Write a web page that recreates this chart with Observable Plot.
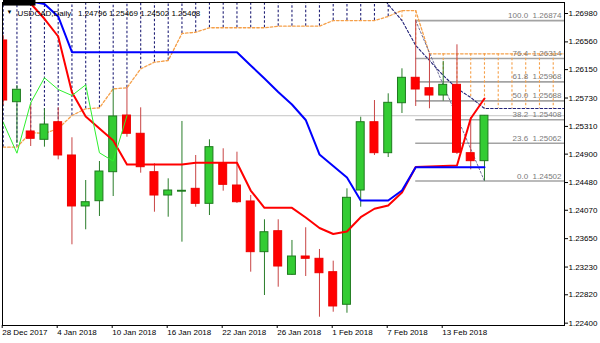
<!DOCTYPE html>
<html><head><meta charset="utf-8">
<script src="https://cdn.jsdelivr.net/npm/d3@7"></script>
<script src="https://cdn.jsdelivr.net/npm/@observablehq/plot@0.6"></script>
<style>
html,body{margin:0;padding:0;background:#fff;}
#chart svg{display:block;}
</style></head><body><div id="chart"></div>
<script>
const symbol = "USDCAD";
const timeframe = "Daily";
const dates = ["28 Dec 2017","29 Dec 2017","2 Jan 2018","3 Jan 2018","4 Jan 2018","5 Jan 2018","8 Jan 2018","9 Jan 2018","10 Jan 2018","11 Jan 2018","12 Jan 2018","15 Jan 2018","16 Jan 2018","17 Jan 2018","18 Jan 2018","19 Jan 2018","22 Jan 2018","23 Jan 2018","24 Jan 2018","25 Jan 2018","26 Jan 2018","29 Jan 2018","30 Jan 2018","31 Jan 2018","1 Feb 2018","2 Feb 2018","5 Feb 2018","6 Feb 2018","7 Feb 2018","8 Feb 2018","9 Feb 2018","12 Feb 2018","13 Feb 2018","14 Feb 2018","15 Feb 2018","16 Feb 2018"];
const open  = [1.26581,1.25668,1.25235,1.25112,1.25372,1.24880,1.24126,1.24204,1.24633,1.25471,1.25201,1.24633,1.24288,1.24345,1.24387,1.24165,1.24766,1.24436,1.24200,1.23450,1.23760,1.23115,1.23386,1.23352,1.23154,1.22672,1.24362,1.25372,1.24914,1.25653,1.26029,1.25875,1.25767,1.25925,1.24914,1.24796];
const high  = [1.26655,1.25915,1.25649,1.25571,1.25585,1.25142,1.24510,1.24791,1.25866,1.25881,1.25585,1.24757,1.24535,1.25383,1.24880,1.25112,1.24979,1.24929,1.24288,1.23929,1.23929,1.23623,1.23811,1.23490,1.23317,1.24387,1.25446,1.25693,1.25792,1.26162,1.26874,1.26384,1.26270,1.26517,1.25442,1.25469];
const low   = [1.25619,1.25057,1.25013,1.25003,1.24816,1.23559,1.23781,1.23978,1.24273,1.25150,1.24618,1.24041,1.23967,1.23598,1.24115,1.23992,1.24352,1.24170,1.23154,1.22809,1.22932,1.23105,1.23090,1.22488,1.22562,1.22547,1.24115,1.24880,1.24850,1.25501,1.25605,1.25571,1.25683,1.24895,1.24668,1.24502];
const close = [1.25693,1.25852,1.25127,1.25338,1.24880,1.24126,1.24189,1.24643,1.25457,1.25201,1.24707,1.24288,1.24362,1.24358,1.24165,1.25003,1.24446,1.24189,1.23450,1.23745,1.23238,1.23386,1.23352,1.23139,1.22647,1.24254,1.25372,1.24914,1.25659,1.26029,1.25856,1.25767,1.25925,1.24920,1.24796,1.25468];

// Ichimoku
const tenkan = [1.27838,1.27498,1.27128,1.26902,1.26640,1.25816,1.25457,1.25279,1.25102,1.24747,1.24747,1.24747,1.24747,1.24747,1.24772,1.24772,1.24772,1.24772,1.24362,1.24106,1.24106,1.24106,1.23963,1.23808,1.23719,1.23756,1.23967,1.24092,1.24140,1.24333,1.24710,1.24717,1.24725,1.24732,1.25427,1.25723];
const kijun  = [1.27468,1.27320,1.27158,1.27121,1.26936,1.26408,1.26408,1.26408,1.26408,1.26408,1.26408,1.26408,1.26408,1.26408,1.26408,1.26408,1.26408,1.26408,1.26211,1.26019,1.25819,1.25634,1.25405,1.24895,1.24725,1.24554,1.24214,1.24214,1.24214,1.24362,1.24707,1.24707,1.24707,1.24707,1.24707,1.24707];
const spanA  = [1.25003,1.25003,1.25220,1.25205,1.25279,1.25471,1.25571,1.25585,1.25866,1.25881,1.26162,1.26260,1.26285,1.26684,1.26703,1.26769,1.26769,1.26769,1.26769,1.26769,1.26792,1.26792,1.26792,1.26792,1.26876,1.26876,1.26876,1.26876,1.26936,1.27024,1.27024,1.26384,1.26384,1.26384,1.26384,1.26384,1.26384,1.26384,1.26384,1.26384,1.26384,1.26384];
const spanB  = [1.27400,1.27400,1.27400,1.27400,1.27400,1.27400,1.27400,1.27400,1.27400,1.27400,1.27400,1.27400,1.27400,1.27400,1.27400,1.27400,1.27400,1.27400,1.27400,1.27400,1.27400,1.27400,1.27400,1.27400,1.27400,1.27400,1.27400,1.27400,1.27113,1.26876,1.26507,1.26285,1.26063,1.25871,1.25738,1.25575,1.25575,1.25575,1.25575,1.25575,1.25575,1.25575];
const chikouShift = 26;

// Fibonacci retracement
const fibLevels = [0.0, 23.6, 38.2, 50.0, 61.8, 76.4, 100.0];
const fibPrices = [1.24502, 1.25062, 1.25408, 1.25688, 1.25968, 1.26314, 1.26874];
const fibHighIndex = 30, fibLowIndex = 35;

// axes
const xTickIndex = [0,4,8,12,16,20,24,28,32];
const yTicks = [1.22400,1.22820,1.23230,1.23650,1.24070,1.24480,1.24900,1.25310,1.25730,1.26150,1.26560,1.26980];
const xDomain = [-0.05, 40.82];
const yDomain = [1.223655, 1.271427];

const bars = dates.map((d,i)=>({i, date:d, open:open[i], high:high[i], low:low[i], close:close[i]}));
const cloud = spanA.map((a,i)=>({i, a, b: spanB[i]}));
const tenkanData = tenkan.map((v,i)=>({i,v}));
const kijunData = kijun.map((v,i)=>({i,v}));
const chikouData = close.slice(chikouShift).map((v,k)=>({i:k, v}));
const fib = fibLevels.map((l,k)=>({level:l, price:fibPrices[k]}));
const fibTrend = [{i:fibHighIndex, v:fibPrices[6]}, {i:fibLowIndex, v:fibPrices[0]}];
const last = bars[bars.length-1];

const ORANGE = "#f5a04a", NAVY = "#232378";
const bull = d => d.close >= d.open;

const header = `${symbol},${timeframe}\u00a0\u00a0\u00a0${[last.open,last.high,last.low,last.close].map(v=>v.toFixed(5)).join(" ")}`;

const chart = Plot.plot({
  width: 600, height: 343,
  marginLeft: 2, marginRight: 36, marginTop: 2, marginBottom: 18,
  style: {fontFamily: "'Liberation Sans', Arial, sans-serif", fontSize: "8px", color: "#000", background: "#fff"},
  x: {type: "linear", domain: xDomain},
  y: {domain: yDomain},
  marks: [
    Plot.ruleY([last.close], {stroke: "#c4c4c4", strokeWidth: 1}),
    Plot.ruleY(fib, {y: "price", x1: fibHighIndex, x2: xDomain[1], stroke: "#a3a3a3", strokeWidth: 1.6}),
    Plot.ruleX(cloud, {x: "i", y1: "a", y2: "b", stroke: d => d.a >= d.b ? ORANGE : NAVY, strokeDasharray: "2.5,2", strokeWidth: 1.1, clip: true}),
    Plot.line(cloud, {x: "i", y: "a", stroke: ORANGE, strokeDasharray: "2.5,2", strokeWidth: 1.3, clip: true}),
    Plot.line(cloud, {x: "i", y: "b", stroke: NAVY, strokeDasharray: "2.5,2", strokeWidth: 1.1, clip: true}),
    Plot.line(fibTrend, {x: "i", y: "v", stroke: "#6f6f9a", strokeDasharray: "2,2", strokeWidth: 1}),
    Plot.ruleX(bars, {x: "i", y1: "low", y2: "high", stroke: d => bull(d) ? "#2a7d2a" : "#c84444", strokeWidth: 1, clip: true}),
    Plot.rect(bars, {x1: d => d.i - 0.5, x2: d => d.i + 0.5, y1: "open", y2: "close", insetLeft: 2.9, insetRight: 2.9,
      fill: d => bull(d) ? "#33cc33" : "#ff0000", stroke: d => bull(d) ? "#1e7a1e" : "#ee0000", strokeWidth: 1, clip: true}),
    Plot.line(tenkanData, {x: "i", y: "v", stroke: "#ff0000", strokeWidth: 2, clip: true}),
    Plot.line(kijunData, {x: "i", y: "v", stroke: "#0000ff", strokeWidth: 2, clip: true}),
    Plot.line(chikouData, {x: "i", y: "v", stroke: "#2ef02e", strokeWidth: 1, clip: true}),
    Plot.text(fib, {y: "price", frameAnchor: "right", dx: -3, dy: -5, textAnchor: "end", fill: "#7a7a7a", fontSize: 8,
      text: d => `${d.level.toFixed(1)}\u00a0\u00a0${d.price.toFixed(5)}`}),
    Plot.text(["\u25BC"], {frameAnchor: "top-left", dx: 4, dy: 7, fontSize: 6, fill: "#000"}),
    Plot.text([header], {frameAnchor: "top-left", dx: 15, dy: 8, textAnchor: "start", fill: "#000", fontSize: 8}),
    Plot.axisX({ticks: xTickIndex, tickFormat: i => dates[i], tickSize: 3, tickPadding: 1, textAnchor: "start", dx: -1, label: null, stroke: "#000", fill: "#000"}),
    Plot.axisY({anchor: "right", ticks: yTicks, tickFormat: d => d.toFixed(5), tickSize: 3, tickPadding: 1, label: null, stroke: "#000", fill: "#000"}),
    Plot.text([last.close], {y: d => d, frameAnchor: "right", dx: 4, textAnchor: "start", fill: "#fff", fontSize: 8,
      text: d => d.toFixed(5), className: "pricelabel"}),
    Plot.frame({stroke: "#000"})
  ]
});
document.getElementById("chart").appendChild(chart);

// black background box behind the current-price label
const lbl = d3.select(chart).select("g.pricelabel text");
if (!lbl.empty()) {
  const bb = lbl.node().getBBox();
  d3.select(lbl.node().parentNode).insert("rect", "text")
    .attr("x", bb.x - 1.5).attr("y", bb.y - 0.5)
    .attr("width", bb.width + 3).attr("height", bb.height + 1)
    .attr("fill", "#000");
}
</script></body></html>
